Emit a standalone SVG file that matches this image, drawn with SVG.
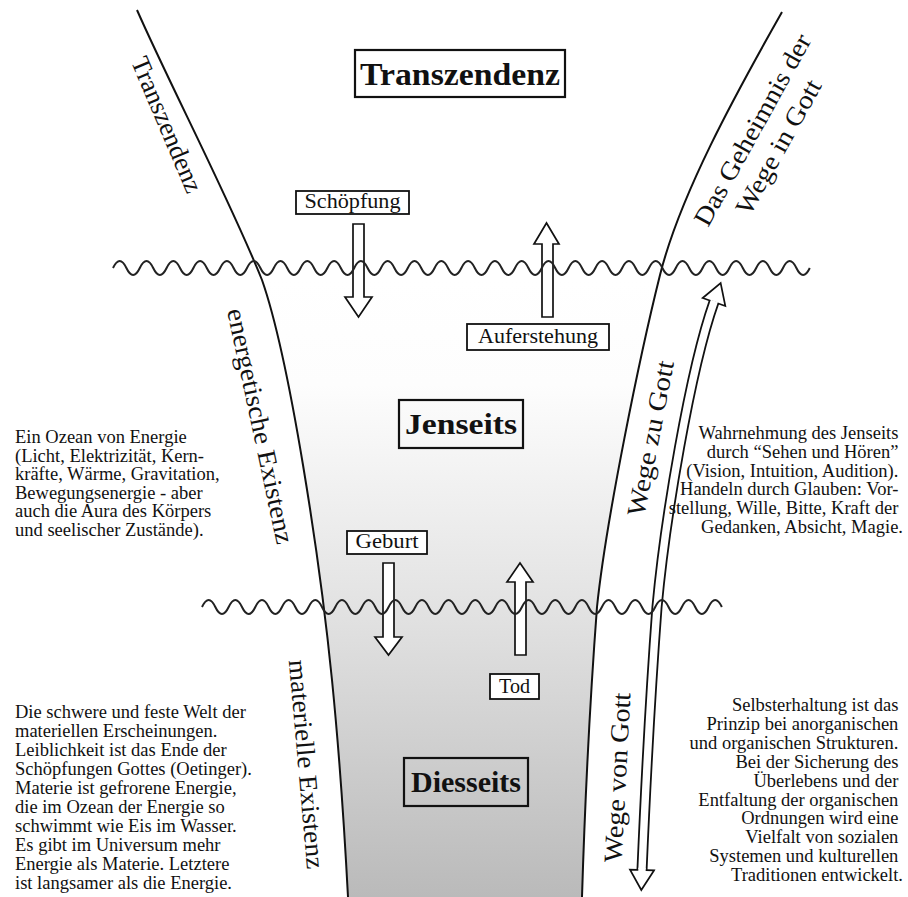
<svg xmlns="http://www.w3.org/2000/svg" width="908" height="897" viewBox="0 0 908 897">
<style>
text{font-family:"Liberation Serif","Times New Roman",serif;fill:#111}
.body{font-size:18.5px}
.lab{font-size:20px;text-anchor:middle}
.rot{font-size:26px;text-anchor:middle}
.title{font-weight:bold;text-anchor:middle}
.box{fill:#fff;stroke:#111;stroke-width:1.8}
.tbox{fill:none;stroke:#111;stroke-width:2.2}
.line{fill:none;stroke:#111;stroke-width:2}
.wave{fill:none;stroke:#222;stroke-width:2}
.barrow{fill:#fff;stroke:#111;stroke-width:1.7;stroke-linejoin:miter}
</style>
<defs>
<linearGradient id="fade" gradientUnits="userSpaceOnUse" x1="0" y1="280" x2="0" y2="897">
<stop offset="0" stop-color="#fff"/>
<stop offset="0.17" stop-color="#fdfdfd"/>
<stop offset="0.55" stop-color="#e1e1e1"/>
<stop offset="1" stop-color="#bababa"/>
</linearGradient>
</defs>
<rect width="908" height="897" fill="#fff"/>
<path d="M262,280 C290,360 320,560 332,680 C340,760 345,840 348,897 L582,897 C585,800 590,700 597,607 C606,520 640,355 660,275 Z" fill="url(#fade)"/>

<g id="funnel">
<path class="line" d="M137,10 C170,85 230,200 262,280 C290,360 320,560 332,680 C340,760 345,840 348,897"/>
<path class="line" d="M782,12 C735,95 680,195 660,275 C640,355 606,520 597,607 C590,700 585,800 582,897"/>
</g>

<g id="connectors">
<path class="barrow" d="M353,224 H364 V297 H372 L358.5,317 L345,297 H353 Z"/>
<path class="barrow" d="M542,317 V244 H534 L546.5,223 L559,244 H553 V317 Z"/>
<path class="barrow" d="M383,563 H394 V637 H402 L388.5,655 L375,637 H383 Z"/>
<path class="barrow" d="M515,655 V582 H507 L520,563 L533,582 H526 V655 Z"/>
<g id="wege-arrow">
<path d="M714,302 C690,370 665,520 657,607 C650,700 645,800 642,870" fill="none" stroke="#111" stroke-width="11"/>
<path d="M714,302 C690,370 665,520 657,607 C650,700 645,800 642,870" fill="none" stroke="#fff" stroke-width="7.4"/>
<g transform="translate(714,302) rotate(19.4)">
<path d="M-12,0 L0,-20 L12,0 Z" fill="#fff" stroke="#111" stroke-width="1.7"/>
<line x1="0" y1="-1.2" x2="0" y2="2" stroke="#fff" stroke-width="7.4"/>
</g>
<g transform="translate(642,870) rotate(182)">
<path d="M-12,0 L0,-20 L12,0 Z" fill="#fff" stroke="#111" stroke-width="1.7"/>
<line x1="0" y1="-1.2" x2="0" y2="2" stroke="#fff" stroke-width="7.4"/>
</g>
</g>
</g>

<g id="waves">
<path class="wave" d="M113,268 q6.7,-14 13.4,0 t13.4,0 t13.4,0 t13.4,0 t13.4,0 t13.4,0 t13.4,0 t13.4,0 t13.4,0 t13.4,0 t13.4,0 t13.4,0 t13.4,0 t13.4,0 t13.4,0 t13.4,0 t13.4,0 t13.4,0 t13.4,0 t13.4,0 t13.4,0 t13.4,0 t13.4,0 t13.4,0 t13.4,0 t13.4,0 t13.4,0 t13.4,0 t13.4,0 t13.4,0 t13.4,0 t13.4,0 t13.4,0 t13.4,0 t13.4,0 t13.4,0 t13.4,0 t13.4,0 t13.4,0 t13.4,0 t13.4,0 t13.4,0 t13.4,0 t13.4,0 t13.4,0 t13.4,0 t13.4,0 t13.4,0 t13.4,0 t13.4,0 t13.4,0 t13.4,0"/>
<path class="wave" d="M202,607 q6.67,-14 13.33,0 t13.33,0 t13.33,0 t13.33,0 t13.33,0 t13.33,0 t13.33,0 t13.33,0 t13.33,0 t13.33,0 t13.33,0 t13.33,0 t13.33,0 t13.33,0 t13.33,0 t13.33,0 t13.33,0 t13.33,0 t13.33,0 t13.33,0 t13.33,0 t13.33,0 t13.33,0 t13.33,0 t13.33,0 t13.33,0 t13.33,0 t13.33,0 t13.33,0 t13.33,0 t13.33,0 t13.33,0 t13.33,0 t13.33,0 t13.33,0 t13.33,0 t13.33,0 t13.33,0 t13.33,0"/>
</g>

<g id="transzendenz">
<rect class="tbox" x="355" y="50" width="210" height="47"/>
<text class="title" x="460" y="85" font-size="32" textLength="200" lengthAdjust="spacingAndGlyphs">Transzendenz</text>
</g>
<g id="jenseits">
<rect class="tbox" x="399" y="400" width="124" height="48"/>
<text class="title" x="461" y="434" font-size="30" textLength="112" lengthAdjust="spacingAndGlyphs">Jenseits</text>
</g>
<g id="diesseits">
<rect class="tbox" x="404" y="758" width="124" height="48"/>
<text class="title" x="466" y="792" font-size="30" textLength="110" lengthAdjust="spacingAndGlyphs">Diesseits</text>
</g>

<g id="schoepfung">
<rect class="box" x="296" y="191" width="113" height="23"/>
<text class="lab" x="352.5" y="208" textLength="96" lengthAdjust="spacingAndGlyphs">Schöpfung</text>
</g>
<g id="auferstehung">
<rect class="box" x="467" y="324" width="142" height="26"/>
<text class="lab" x="538" y="343" textLength="120" lengthAdjust="spacingAndGlyphs">Auferstehung</text>
</g>
<g id="geburt">
<rect class="box" x="347" y="531" width="80" height="23"/>
<text class="lab" x="387" y="548" textLength="63" lengthAdjust="spacingAndGlyphs">Geburt</text>
</g>
<g id="tod">
<rect class="box" x="490" y="674" width="49" height="25"/>
<text class="lab" x="514.5" y="693" textLength="31" lengthAdjust="spacingAndGlyphs">Tod</text>
</g>

<g id="side-labels">
<text class="rot" transform="translate(159,128) rotate(67)" textLength="145" lengthAdjust="spacingAndGlyphs">Transzendenz</text>
<text class="rot" transform="translate(252,428) rotate(78)" textLength="240" lengthAdjust="spacingAndGlyphs">energetische Existenz</text>
<text class="rot" transform="translate(298,765) rotate(85)" textLength="210" lengthAdjust="spacingAndGlyphs">materielle Existenz</text>
<text class="rot" transform="translate(659,440) rotate(-79)" textLength="158" lengthAdjust="spacingAndGlyphs">Wege zu Gott</text>
<text class="rot" transform="translate(626,778) rotate(-87)" textLength="170" lengthAdjust="spacingAndGlyphs">Wege von Gott</text>
<text class="rot" transform="translate(760,134) rotate(-61)" textLength="215" lengthAdjust="spacingAndGlyphs">Das Geheimnis der</text>
<text class="rot" transform="translate(786,151) rotate(-61)" textLength="150" lengthAdjust="spacingAndGlyphs">Wege in Gott</text>
</g>

<g id="text-energie">
<text class="body">
<tspan x="15" y="443">Ein Ozean von Energie</tspan>
<tspan x="15" y="461.5">(Licht, Elektrizität, Kern-</tspan>
<tspan x="15" y="480">kräfte, Wärme, Gravitation,</tspan>
<tspan x="15" y="498.5">Bewegungsenergie - aber</tspan>
<tspan x="15" y="517">auch die Aura des Körpers</tspan>
<tspan x="15" y="535.5">und seelischer Zustände).</tspan>
</text>
</g>
<g id="text-wahrnehmung">
<text class="body" text-anchor="end">
<tspan x="903" y="439">Wahrnehmung des Jenseits</tspan>
<tspan x="903" y="457.8">durch “Sehen und Hören”</tspan>
<tspan x="903" y="476.6">(Vision, Intuition, Audition).</tspan>
<tspan x="903" y="495.4">Handeln durch Glauben: Vor-</tspan>
<tspan x="903" y="514.2">stellung, Wille, Bitte, Kraft der</tspan>
<tspan x="903" y="533">Gedanken, Absicht, Magie.</tspan>
</text>
</g>
<g id="text-materie">
<text class="body">
<tspan x="15" y="718">Die schwere und feste Welt der</tspan>
<tspan x="15" y="737">materiellen Erscheinungen.</tspan>
<tspan x="15" y="756">Leiblichkeit ist das Ende der</tspan>
<tspan x="15" y="775">Schöpfungen Gottes (Oetinger).</tspan>
<tspan x="15" y="794">Materie ist gefrorene Energie,</tspan>
<tspan x="15" y="813">die im Ozean der Energie so</tspan>
<tspan x="15" y="832">schwimmt wie Eis im Wasser.</tspan>
<tspan x="15" y="851">Es gibt im Universum mehr</tspan>
<tspan x="15" y="870">Energie als Materie. Letztere</tspan>
<tspan x="15" y="889">ist langsamer als die Energie.</tspan>
</text>
</g>
<g id="text-selbsterhaltung">
<text class="body" text-anchor="end">
<tspan x="903" y="711">Selbsterhaltung ist das</tspan>
<tspan x="903" y="729.9">Prinzip bei anorganischen</tspan>
<tspan x="903" y="748.8">und organischen Strukturen.</tspan>
<tspan x="903" y="767.7">Bei der Sicherung des</tspan>
<tspan x="903" y="786.6">Überlebens und der</tspan>
<tspan x="903" y="805.5">Entfaltung der organischen</tspan>
<tspan x="903" y="824.4">Ordnungen wird eine</tspan>
<tspan x="903" y="843.3">Vielfalt von sozialen</tspan>
<tspan x="903" y="862.2">Systemen und kulturellen</tspan>
<tspan x="903" y="881.1">Traditionen entwickelt.</tspan>
</text>
</g>
</svg>
